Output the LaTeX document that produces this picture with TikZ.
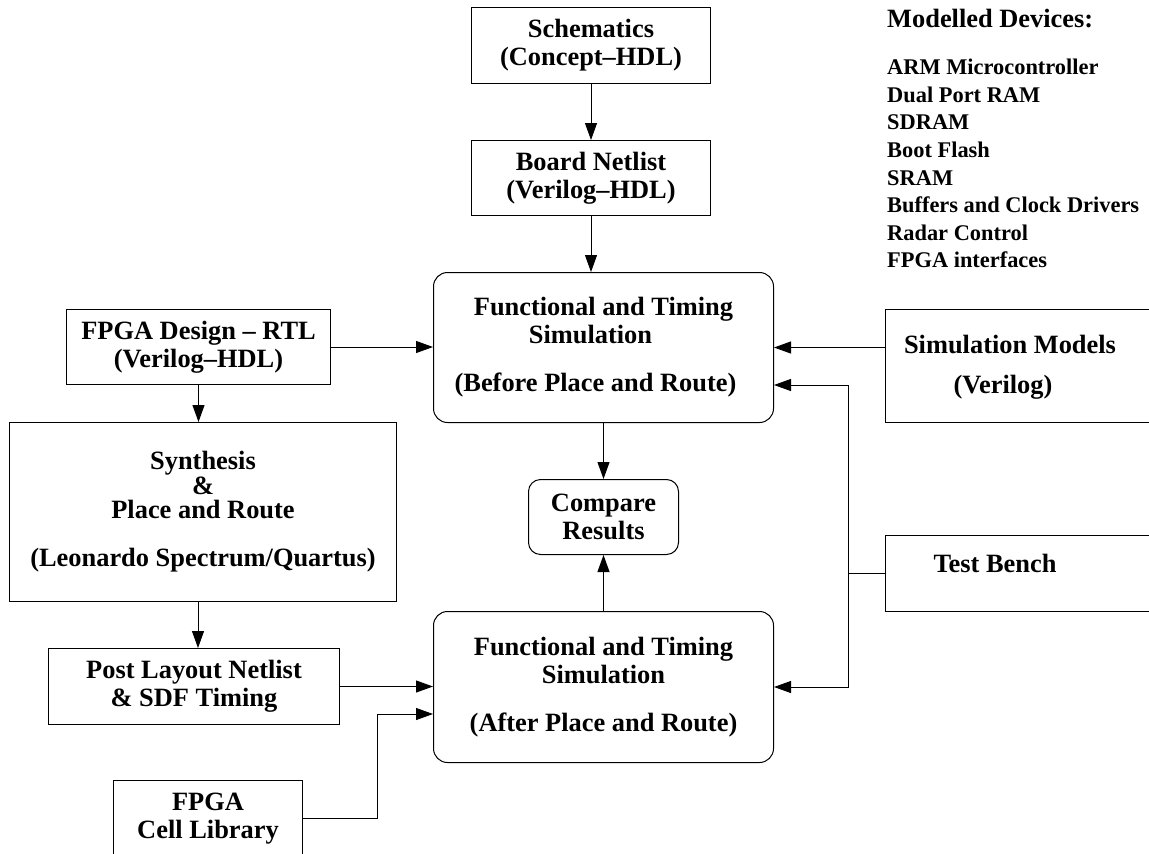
\documentclass[tikz,border=0pt]{standalone}
\usepackage{fontspec}
\setmainfont{Liberation Serif}
\usetikzlibrary{arrows.meta,calc}
\newcommand{\boxfont}{\fontsize{26.4}{28}\selectfont\bfseries}
\newcommand{\listfont}{\fontsize{22.4}{27.6}\selectfont\bfseries}

\begin{document}
\begin{tikzpicture}[x=1pt,y=-1pt,
  box/.style={draw, line width=1pt, inner sep=0pt, anchor=north west, align=center, font=\boxfont},
  rbox/.style={box, rounded corners=14pt},
  txt/.style={inner sep=0pt, align=center, font=\boxfont},
  arr/.style={line width=1pt, -{Triangle[length=17pt,width=12pt]}},
  wire/.style={line width=1pt}]

\useasboundingbox (0,0) rectangle (1149,854);
\clip (0,0) rectangle (1149,854);

% board-level flow
\node[box, minimum width=239pt, minimum height=76pt] (sch) at (471,7) {Schematics\\(Concept–HDL)};
\node[box, minimum width=239pt, minimum height=75pt] (board) at (471,140) {Board Netlist\\(Verilog–HDL)};
\node[rbox, minimum width=340pt, minimum height=150pt] (fts1) at (433,272)
  {Functional and Timing\\Simulation\hspace*{26pt}\mbox{}\\[20pt](Before Place and Route)\hspace*{16pt}\mbox{}};
\node[rbox, rounded corners=12pt, minimum width=150pt, minimum height=75pt] (cmp) at (528,479) {Compare\\Results};
\node[rbox, minimum width=340pt, minimum height=151pt] (fts2) at (433,611)
  {Functional and Timing\\Simulation\\[20pt](After Place and Route)};

% FPGA flow
\node[box, minimum width=264pt, minimum height=75pt] (fpgad) at (66,309) {FPGA Design – RTL\\(Verilog–HDL)};
\node[box, minimum width=387pt, minimum height=179pt] (synth) at (9,422)
  {Synthesis\\[-3pt]\&\\[-4pt]Place and Route\\[20pt](Leonardo Spectrum/Quartus)};
\node[box, minimum width=291pt, minimum height=76pt] (post) at (48,648) {Post Layout Netlist\\\& SDF Timing};
\node[box, minimum width=189pt, minimum height=76pt] (cell) at (113,780) {FPGA\\Cell Library};

% inputs on the right
\node[box, minimum width=300pt, minimum height=113pt] (simmod) at (885,309) {};
\node[txt] (simmodt) at (1010,367) {Simulation Models\\[12pt](Verilog)\hspace*{14pt}\mbox{}};
\node[box, minimum width=300pt, minimum height=76pt] (tb) at (885,535) {};
\node[txt, anchor=base] (tbt) at (995,572) {Test Bench};

% device list
\node[inner sep=0pt, anchor=base west, font=\boxfont] (hdr) at (887,27) {Modelled Devices:};
\node[inner sep=0pt, anchor=north west, align=left, font=\listfont] (devs) at (887,59)
  {ARM Microcontroller\\Dual Port RAM\\SDRAM\\Boot Flash\\SRAM\\Buffers and Clock Drivers\\Radar Control\\FPGA interfaces};

% connectors
\coordinate (sx) at (198,0);
\coordinate (cj) at (377,714);
\coordinate (tj) at (848,385);

\draw[arr] (sch.south) -- (board.north);
\draw[arr] (board.south) -- (board.south |- fts1.north);
\draw[arr] (fpgad.east) -- (fpgad.east -| fts1.west);
\draw[arr] (fpgad.south) -- (fpgad.south |- synth.north);
\draw[arr] (synth.south -| sx) -- (post.north -| sx);
\draw[arr] (post.east) -- (post.east -| fts2.west);
\draw[arr] (cell.east) -| (cj) -- (cj -| fts2.west);
\draw[arr] (fts1.east -| simmod.west) -- (fts1.east);
\draw[wire] (tb.west) -- (tb.west -| tj);
\draw[arr] (tj |- tb.west) -- (tj) -- (tj -| fts1.east);
\draw[arr] (tj |- tb.west) -- (tj |- fts2.east) -- (fts2.east);
\draw[arr] (fts1.south -| cmp.north) -- (cmp.north);
\draw[arr] (fts2.north -| cmp.south) -- (cmp.south);
\end{tikzpicture}
\end{document}
